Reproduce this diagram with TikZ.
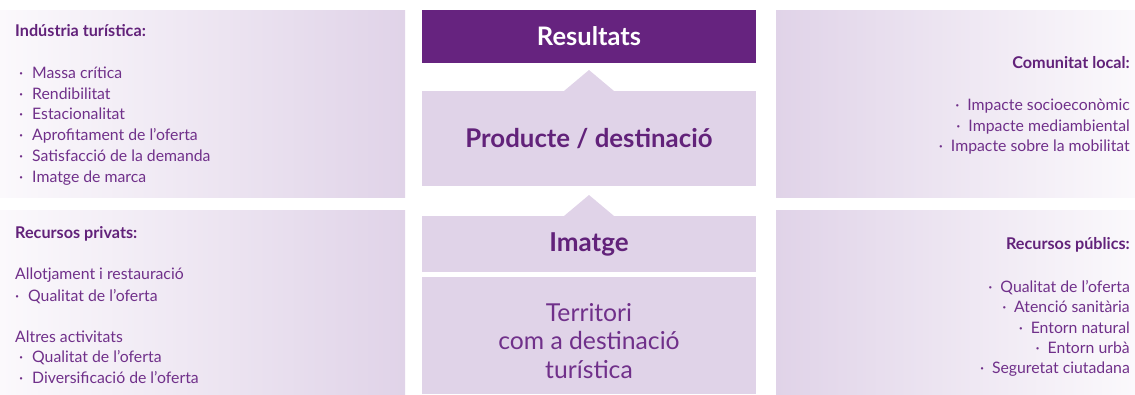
\documentclass[tikz,border=0pt]{standalone}
\usepackage{fontspec}
\setmainfont{Lato}
\usetikzlibrary{calc}

\definecolor{darkpurple}{HTML}{66237F}
\definecolor{headpurple}{HTML}{62227A}
\definecolor{textpurple}{HTML}{70308A}
\definecolor{lilac}{HTML}{E0D3E8}
\definecolor{paler}{HTML}{FBF9FC}

\newcommand{\dotmark}{\makebox[13pt][l]{·}}
\newcommand{\rdotmark}{\makebox[12pt][l]{·}}

\tikzset{
  sidepanel/.style={anchor=north west, inner sep=0pt, outer sep=0pt},
  centrebox/.style={anchor=north west, fill=lilac, inner sep=0pt, outer sep=0pt,
    minimum width=334pt, text=headpurple, align=center},
  pointer/.style={fill=lilac},
  head/.style={anchor=base west, inner sep=0pt, text=headpurple,
    font=\fontsize{16.2}{19}\selectfont\bfseries},
  item/.style={anchor=base west, inner sep=0pt, text=textpurple,
    font=\fontsize{15.8}{19}\selectfont},
  rhead/.style={head, anchor=base east},
  ritem/.style={item, anchor=base east}
}

\begin{document}
\begin{tikzpicture}[x=1pt, y=-1pt]
 \useasboundingbox (0,0) rectangle (1135,394);

 % side panels
 \node[sidepanel, minimum width=405pt, minimum height=187pt,
   left color=paler, right color=lilac] (ind) at (0,10) {};
 \node[sidepanel, minimum width=405pt, minimum height=184pt,
   left color=paler, right color=lilac] (priv) at (0,210) {};
 \node[sidepanel, minimum width=359pt, minimum height=187pt,
   left color=lilac, right color=paler] (com) at (776,10) {};
 \node[sidepanel, minimum width=359pt, minimum height=184pt,
   left color=lilac, right color=paler] (pub) at (776,210) {};

 % central column
 \node[centrebox, minimum height=53pt, fill=darkpurple, text=white,
   font=\fontsize{25.5}{30}\selectfont\bfseries] (res) at (422,10) {Resultats};
 \node[centrebox, minimum height=95pt,
   font=\fontsize{25.8}{30}\selectfont\bfseries] (prod) at (422,91) {Producte / destinació};
 \node[centrebox, minimum height=56pt,
   font=\fontsize{26}{30}\selectfont\bfseries] (imat) at (422,216) {Imatge};
 \node[centrebox, minimum height=117pt] (terr) at (422,277) {};
 \node[align=center, text=textpurple, font=\fontsize{24.7}{28.5}\selectfont]
   (terr-t) at ($(terr.center)+(0,5.5)$) {Territori\\ com a destinació\\ turística};

 \fill[pointer] ($(prod.north)+(-25,0)$) -- ($(prod.north)+(0,-21)$)
   -- ($(prod.north)+(25,0)$) -- cycle;
 \fill[pointer] ($(imat.north)+(-25,0)$) -- ($(imat.north)+(0,-21)$)
   -- ($(imat.north)+(25,0)$) -- cycle;

 % left texts
 \node[head] (ind-h) at (15,36) {Indústria turística:};
 \foreach \i/\yy/\txt in {1/78/Massa crítica, 2/99/Rendibilitat,
   3/119/Estacionalitat, 4/140/Aprofitament de l’oferta,
   5/161/Satisfacció de la demanda, 6/182/Imatge de marca}
   \node[item] (ind-\i) at (19,\yy) {\dotmark\txt};

 \node[head] (priv-h) at (15,238) {Recursos privats:};
 \node[item] (priv-a) at (15,279) {Allotjament i restauració};
 \node[item] (priv-a1) at (15,301) {\dotmark Qualitat de l’oferta};
 \node[item] (priv-b) at (15,342) {Altres activitats};
 \foreach \i/\yy/\txt in {1/362/Qualitat de l’oferta, 2/383/Diversificació de l’oferta}
   \node[item] (priv-b\i) at (19,\yy) {\dotmark\txt};

 % right texts
 \node[rhead] (com-h) at (1130,68) {Comunitat local:};
 \foreach \i/\yy/\txt in {1/110/Impacte socioeconòmic, 2/131/Impacte mediambiental,
   3/151/Impacte sobre la mobilitat}
   \node[ritem] (com-\i) at (1130,\yy) {\rdotmark\txt};

 \node[rhead] (pub-h) at (1130,249) {Recursos públics:};
 \foreach \i/\yy/\txt in {1/292/Qualitat de l’oferta, 2/312/Atenció sanitària,
   3/333/Entorn natural, 4/353/Entorn urbà, 5/373/Seguretat ciutadana}
   \node[ritem] (pub-\i) at (1130,\yy) {\rdotmark\txt};
\end{tikzpicture}
\end{document}
